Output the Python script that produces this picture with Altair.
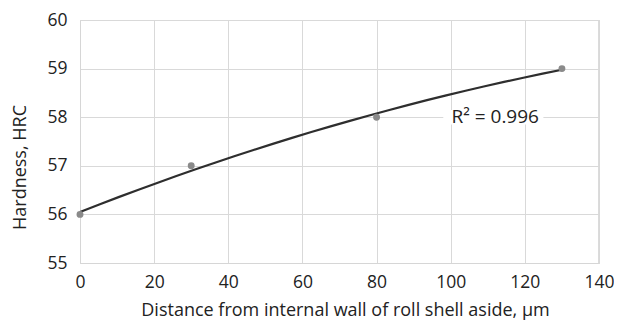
import altair as alt
import pandas as pd

distance = [0, 30, 80, 130]
hardness = [56, 57, 58, 59]
r2_label = ["R\u00b2 = 0.996"]

df = pd.DataFrame({"x": distance, "y": hardness})
ann = pd.DataFrame({"x": [112.0], "x1": [98.0], "x2": [125.0], "y": [58.0], "y1": [57.85], "y2": [58.15], "t": r2_label})

FONT = "Open Sans"
W, H = 519, 243

xs = alt.Scale(domain=[0, 140], nice=False, zero=False)
ys = alt.Scale(domain=[55, 60], nice=False, zero=False)

xaxis = alt.Axis(values=[0, 20, 40, 60, 80, 100, 120, 140],
                 title="Distance from internal wall of roll shell aside, \u00b5m")
yaxis = alt.Axis(values=[55, 56, 57, 58, 59, 60], title="Hardness, HRC")

base = alt.Chart(df)

points = base.mark_circle(size=48, color="#8a8a8a", opacity=1).encode(
    x=alt.X("x:Q", scale=xs, axis=xaxis),
    y=alt.Y("y:Q", scale=ys, axis=yaxis),
)

trend = base.transform_regression("x", "y", method="poly", order=2, extent=[0, 130]).mark_line(
    color="#2e2e2e", strokeWidth=2.2
).encode(x=alt.X("x:Q", scale=xs, axis=xaxis), y=alt.Y("y:Q", scale=ys, axis=yaxis))

box = alt.Chart(ann).mark_rect(color="white").encode(
    x=alt.X("x1:Q", scale=xs, axis=xaxis), x2="x2:Q", y=alt.Y("y1:Q", scale=ys, axis=yaxis), y2="y2:Q"
)
label = alt.Chart(ann).mark_text(fontSize=19, font=FONT, color="#222", baseline="middle").encode(
    x=alt.X("x:Q", scale=xs, axis=xaxis), y=alt.Y("y:Q", scale=ys, axis=yaxis), text="t:N"
)

right_border = alt.Chart(df).mark_rule(color="#d9d9d9").encode(x=alt.value(W), y=alt.value(0), y2=alt.value(H))

chart = alt.layer(right_border, trend, points, box, label).properties(
    width=W, height=H,
    autosize=alt.AutoSizeParams(type="none"),
    padding={"left": 72, "top": 12, "right": 15, "bottom": 57},
    background="white",
).configure_view(stroke=None).configure(font=FONT).configure_axis(
    grid=True, ticks=False, labelFlush=False, labelOverlap=False,
    labelFontSize=17.5, labelColor="#222", labelFont=FONT,
    titleFontSize=18, titleFontWeight="normal", titleColor="#222", titleFont=FONT,
    domainColor="#d6d6d6", gridColor="#d9d9d9",
).configure_axisX(
    labelPadding=10, titleX=265, titleY=52, titleBaseline="alphabetic", titleAlign="center", titleAnchor="start",
).configure_axisY(
    labelPadding=13, titleX=-60, titleY=147, titleAngle=-90, titleBaseline="middle", titleAlign="center", titleAnchor="start",
)

chart.save("out.html", embed_options={"renderer": "svg", "actions": False})
